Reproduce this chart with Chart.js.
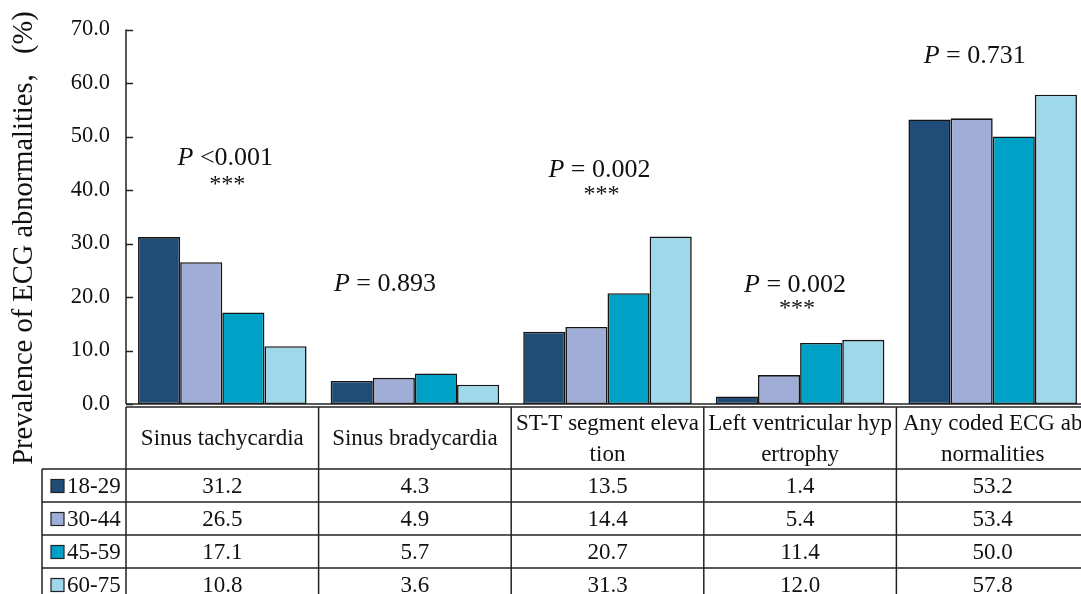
<!DOCTYPE html>
<html><head><meta charset="utf-8">
<script src="https://cdn.jsdelivr.net/npm/chart.js@4.4.1/dist/chart.umd.min.js"></script>
<style>html,body{margin:0;padding:0;overflow:hidden;background:#fff}#wrap{width:1089px;height:594px;position:relative}</style>
</head><body><div id="wrap"><canvas id="c"></canvas></div>
<script>
// ---- data ----
const categories = [["Sinus tachycardia"], ["Sinus bradycardia"], ["ST-T segment eleva", "tion"], ["Left ventricular hyp", "ertrophy"], ["Any coded ECG ab", "normalities"]];
const ageGroups = ["18-29", "30-44", "45-59", "60-75"];
const age18to29 = [31.2, 4.3, 13.5, 1.4, 53.2];
const age30to44 = [26.5, 4.9, 14.4, 5.4, 53.4];
const age45to59 = [17.1, 5.7, 20.7, 11.4, 50.0];
const age60to75 = [10.8, 3.6, 31.3, 12.0, 57.8];
const pValues = ["<0.001", "= 0.893", "= 0.002", "= 0.002", "= 0.731"];
const stars = ["***", "", "***", "***", ""];
const yTitle = "Prevalence of ECG abnormalities，(%)";
const yMin = 0, yMax = 70, yStep = 10;

// ---- styles ----
const colors = ["#204D77", "#A0AED7", "#00A1C6", "#9ED8EA"];
const FONT = '"Liberation Serif","Times New Roman","Noto Serif CJK SC","Noto Sans CJK SC",serif';
const INK = "#111";
// annotation placement (value-axis units for baseline, px offsets for x)
const pBaseline = [44.6, 21.2, 42.5, 21.0, 63.8];
const starBaseline = [39.8, 0, 38.0, 16.6, 0];
const pOffsetX = [3, -30, -8, -5, -18];

const series = [age18to29, age30to44, age45to59, age60to75];

function line(ctx, x1, y1, x2, y2) { ctx.beginPath(); ctx.moveTo(x1, y1); ctx.lineTo(x2, y2); ctx.stroke(); }

const decor = {
  id: "decor",
  afterDraw(chart) {
    const ctx = chart.ctx, ys = chart.scales.y, ca = chart.chartArea;
    const n = categories.length, w = (ca.right - ca.left) / n;
    const L = ca.left, R = ca.right, H = chart.height;
    ctx.save();
    ctx.strokeStyle = "#222"; ctx.lineWidth = 1.5;
    // y axis + inward ticks
    line(ctx, L, ca.top, L, ca.bottom);
    ys.ticks.forEach((t, i) => { const y = Math.round(ys.getPixelForTick(i)) + 0.5; line(ctx, L, y, L + 7, y); });
    // x axis line
    line(ctx, L, ca.bottom, R, ca.bottom);
    // table
    const top = ca.bottom + 3, hdrB = top + 62, rowH = 33, legL = 42;
    line(ctx, L, top, R, top);
    for (let r = 0; r < ageGroups.length; r++) line(ctx, legL, hdrB + r * rowH, R, hdrB + r * rowH);
    for (let i = 0; i <= n; i++) { const x = L + i * w; line(ctx, x, top, x, H); }
    line(ctx, legL, hdrB, legL, H);
    ctx.fillStyle = INK; ctx.textAlign = "center"; ctx.textBaseline = "middle";
    ctx.font = "23px " + FONT;
    categories.forEach((lab, i) => {
      const cx = L + (i + 0.5) * w, cy = (top + hdrB) / 2;
      const lh = 31, y0 = cy - (lab.length - 1) * lh / 2;
      lab.forEach((s, k) => ctx.fillText(s, cx, y0 + k * lh + 1));
    });
    series.forEach((arr, r) => {
      const cy = hdrB + r * rowH + rowH / 2 + 1;
      arr.forEach((v, i) => { ctx.fillText(v.toFixed(1), L + (i + 0.5) * w, cy); });
      // legend
      ctx.fillStyle = colors[r]; ctx.fillRect(51, cy - 7, 13, 13);
      ctx.lineWidth = 1.2; ctx.strokeStyle = "#222"; ctx.strokeRect(51, cy - 7, 13, 13);
      ctx.lineWidth = 1.5;
      ctx.fillStyle = INK; ctx.textAlign = "left";
      ctx.fillText(ageGroups[r], 67, cy);
      ctx.textAlign = "center";
    });
    // y title
    ctx.save();
    ctx.translate(25, 238); ctx.rotate(-Math.PI / 2);
    ctx.font = "28.5px " + FONT; ctx.textAlign = "center"; ctx.textBaseline = "middle";
    ctx.fillText(yTitle, 0, 0);
    ctx.restore();
    // annotations
    ctx.textBaseline = "alphabetic"; ctx.textAlign = "left";
    pValues.forEach((p, i) => {
      const cx = L + (i + 0.5) * w + pOffsetX[i];
      const y = ys.getPixelForValue(pBaseline[i]);
      ctx.font = "italic 26px " + FONT; const wP = ctx.measureText("P").width;
      ctx.font = "26px " + FONT; const rest = " " + p; const wR = ctx.measureText(rest).width;
      const x0 = cx - (wP + wR) / 2;
      ctx.font = "italic 26px " + FONT; ctx.fillText("P", x0, y);
      ctx.font = "26px " + FONT; ctx.fillText(rest, x0 + wP, y);
      if (stars[i]) {
        ctx.font = "24px " + FONT; ctx.textAlign = "center";
        ctx.fillText(stars[i], cx + 2, ys.getPixelForValue(starBaseline[i]));
        ctx.textAlign = "left";
      }
    });
    ctx.restore();
  }
};

new Chart(document.getElementById("c"), {
  type: "bar",
  data: {
    labels: categories,
    datasets: series.map((arr, i) => ({
      label: ageGroups[i], data: arr, backgroundColor: colors[i],
      borderColor: "#151515", borderWidth: 1.6, borderSkipped: false,
      categoryPercentage: 0.875, barPercentage: 1.0
    }))
  },
  options: {
    responsive: true, maintainAspectRatio: false, devicePixelRatio: 1, animation: false,
    layout: { padding: { top: 20, bottom: 190, left: 0, right: 0 } },
    plugins: { legend: { display: false }, tooltip: { enabled: false } },
    scales: {
      x: { display: false },
      y: {
        min: yMin, max: yMax,
        afterFit(s) { s.width = 126; },
        grid: { display: false, drawTicks: false },
        border: { display: false },
        ticks: { stepSize: yStep, padding: 16, color: INK, font: { family: FONT, size: 22.5 }, callback: v => v.toFixed(1) }
      }
    }
  },
  plugins: [decor]
});
</script>
</body></html>
